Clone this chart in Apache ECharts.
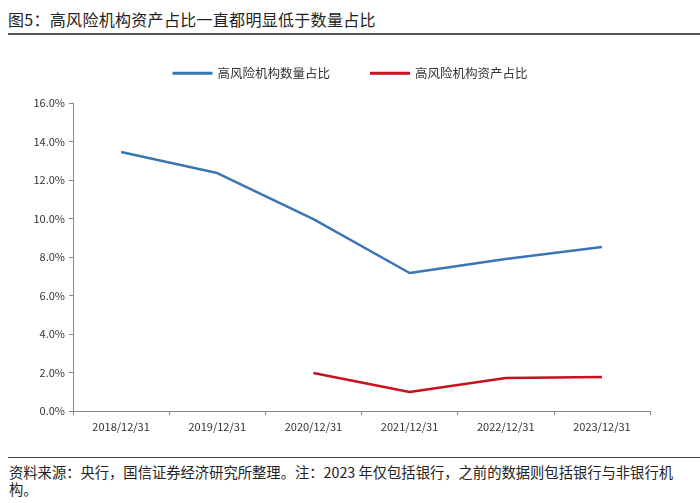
<!DOCTYPE html>
<html><head><meta charset="utf-8">
<script src="https://cdn.jsdelivr.net/npm/echarts@6/dist/echarts.min.js"></script>
<style>
html,body{margin:0;padding:0;background:#fff;}
#wrap{position:relative;width:700px;height:503px;font-family:"Noto Sans CJK SC","Noto Sans",sans-serif;}
#title{position:absolute;left:8px;top:7px;font-size:16px;color:#222;letter-spacing:0.3px;}
#tline{position:absolute;left:8px;right:0px;top:33px;border-top:2px solid #555;}
#bline{position:absolute;left:8px;right:0px;top:457px;border-top:1.5px solid #444;}
#foot{position:absolute;left:9px;width:684px;top:463px;font-size:14.3px;color:#222;line-height:17px;}
#chart{position:absolute;left:0;top:40px;width:700px;height:415px;}
</style></head>
<body><div id="wrap">
<div id="title">图5：高风险机构资产占比一直都明显低于数量占比</div>
<div id="tline"></div>
<div id="chart"></div>
<div id="bline"></div>
<div id="foot">资料来源：央行，国信证券经济研究所整理。注：2023 年仅包括银行，之前的数据则包括银行与非银行机构。</div>
</div>
<script>
const categories = ['2018/12/31','2019/12/31','2020/12/31','2021/12/31','2022/12/31','2023/12/31'];
const countShare = [13.45, 12.36, 9.97, 7.17, 7.90, 8.52];
const assetShare = [null, null, 1.97, 0.99, 1.71, 1.77];
const yTicks = {min: 0, max: 16, interval: 2};

const chart = echarts.init(document.getElementById('chart'));
chart.setOption({
  animation: false,
  textStyle: {fontFamily: '"Noto Sans CJK SC","Noto Sans",sans-serif'},
  legend: {
    top: 22, left: 'center', itemWidth: 40, itemHeight: 3, itemGap: 40,
    icon: 'rect',
    textStyle: {fontSize: 12.5, color: '#333'},
    data: ['高风险机构数量占比','高风险机构资产占比']
  },
  grid: {left: 73, right: 50, top: 63, bottom: 44},
  xAxis: {
    type: 'category', data: categories, boundaryGap: true,
    axisLine: {lineStyle: {color: '#888', width: 1}},
    axisTick: {show: true, length: 4, lineStyle: {color: '#888'}},
    axisLabel: {color: '#333', fontSize: 11, margin: 10}
  },
  yAxis: {
    type: 'value', min: yTicks.min, max: yTicks.max, interval: yTicks.interval,
    axisLine: {show: true, lineStyle: {color: '#888', width: 1}},
    axisTick: {show: true, length: 4, lineStyle: {color: '#888'}},
    splitLine: {show: false},
    axisLabel: {color: '#333', fontSize: 11, margin: 8, formatter: v => v.toFixed(1) + '%'}
  },
  series: [
    {name: '高风险机构数量占比', type: 'line', data: countShare, symbol: 'none',
     lineStyle: {color: '#3a76b5', width: 2.5}, itemStyle: {color: '#3a76b5'}},
    {name: '高风险机构资产占比', type: 'line', data: assetShare, symbol: 'none',
     lineStyle: {color: '#c8101e', width: 2.5}, itemStyle: {color: '#c8101e'}}
  ]
});
</script>
</body></html>
